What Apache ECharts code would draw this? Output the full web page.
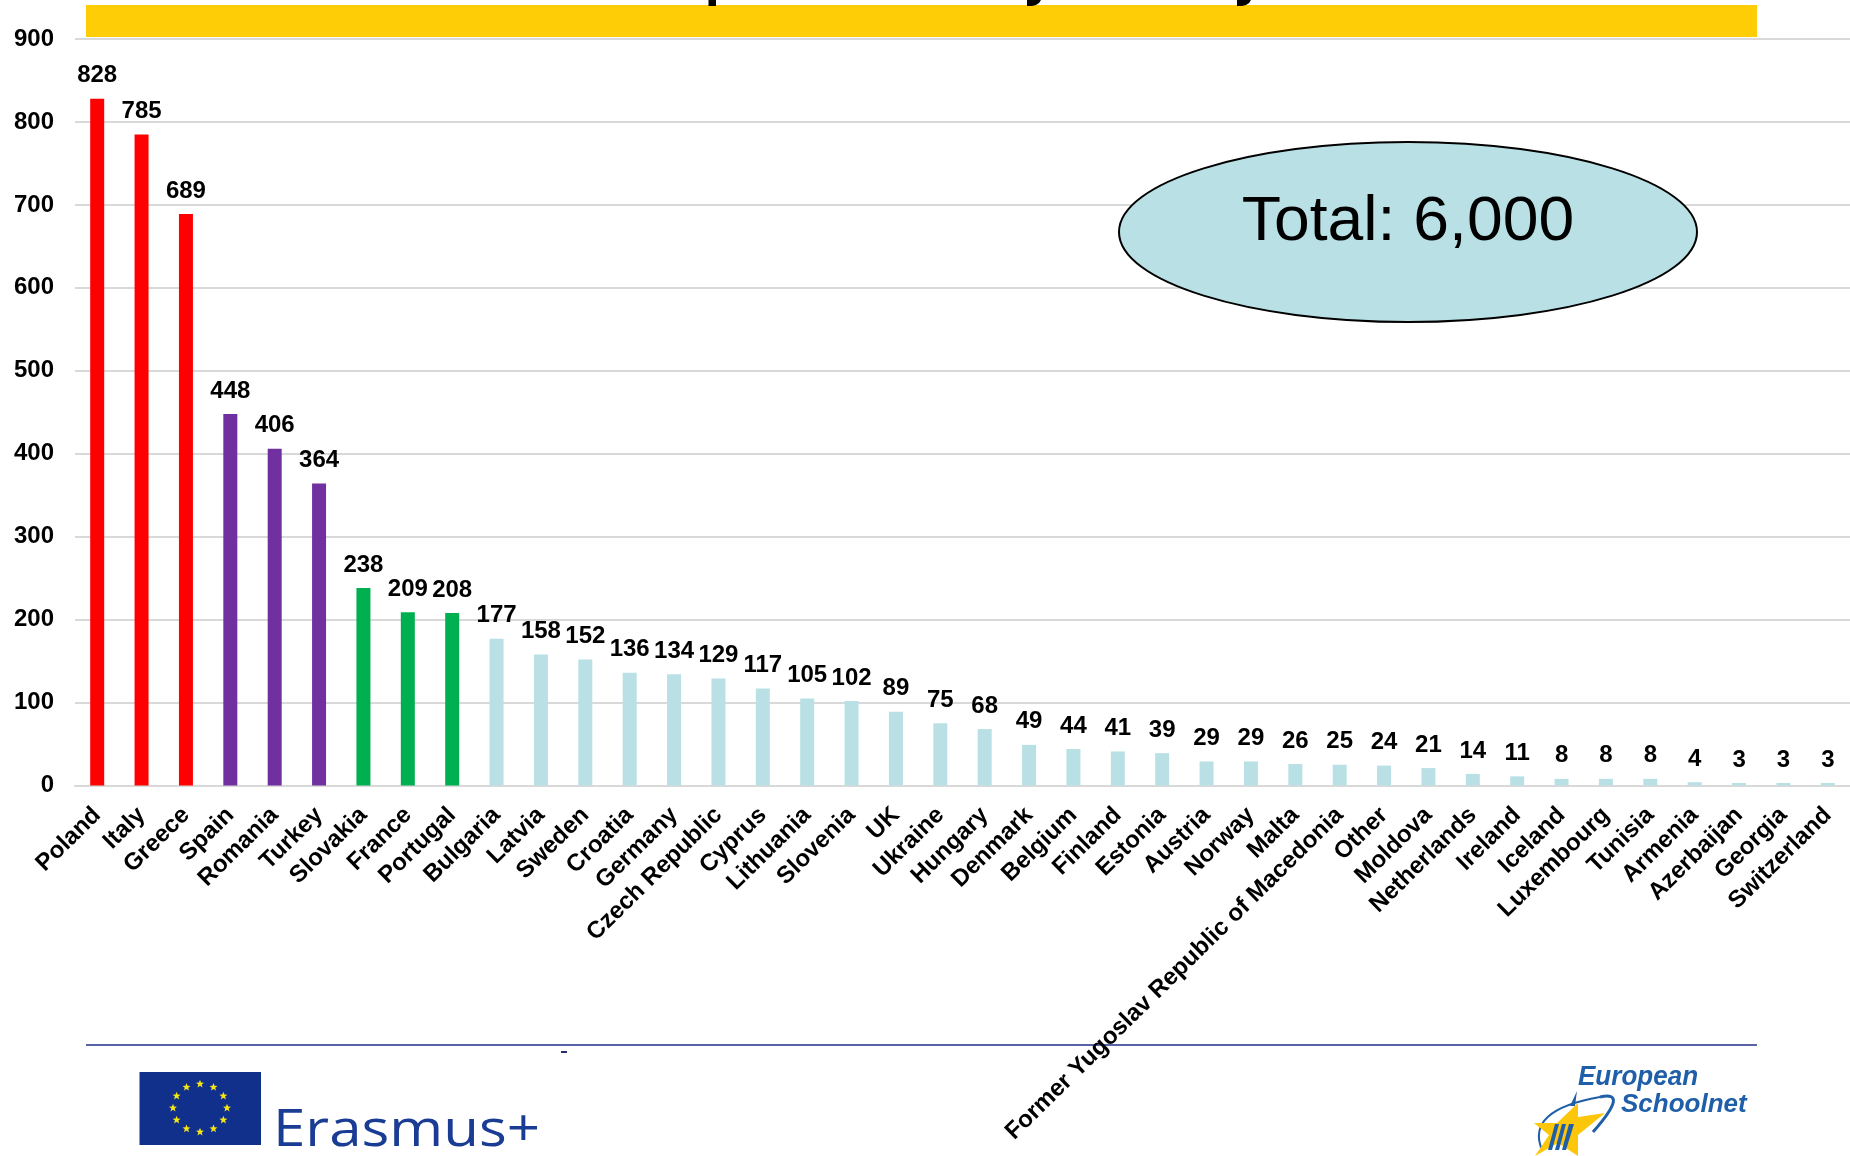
<!DOCTYPE html>
<html><head><meta charset="utf-8">
<style>html,body{margin:0;padding:0;background:#fff}#c{width:1850px;height:1156px}</style>
<script src="https://cdn.jsdelivr.net/npm/echarts@6/dist/echarts.min.js"></script>
</head><body><div id="c"></div>
<script>
const categories = ["Poland","Italy","Greece","Spain","Romania","Turkey","Slovakia","France","Portugal","Bulgaria","Latvia","Sweden","Croatia","Germany","Czech Republic","Cyprus","Lithuania","Slovenia","UK","Ukraine","Hungary","Denmark","Belgium","Finland","Estonia","Austria","Norway","Malta","Former Yugoslav Republic of Macedonia","Other","Moldova","Netherlands","Ireland","Iceland","Luxembourg","Tunisia","Armenia","Azerbaijan","Georgia","Switzerland"];
const values = [828,785,689,448,406,364,238,209,208,177,158,152,136,134,129,117,105,102,89,75,68,49,44,41,39,29,29,26,25,24,21,14,11,8,8,8,4,3,3,3];
const barColors = ["#ff0000","#ff0000","#ff0000","#7030a0","#7030a0","#7030a0","#00b050","#00b050","#00b050"];
const otherColor = "#b9e0e4";
const totalLabel = "Total: 6,000";
const FONT = '"Liberation Sans", Arial, sans-serif';

const chart = echarts.init(document.getElementById('c'), null, {renderer:'canvas'});

function starPts(cx, cy, R, r, rot){
  const p=[];
  for(let i=0;i<10;i++){
    const a=rot+i*Math.PI/5, q=i%2?r:R;
    p.push([cx+q*Math.sin(a),cy-q*Math.cos(a)]);
  }
  return p;
}
const euStars=[];
for(let i=0;i<12;i++){
  const a=i*Math.PI/6;
  euStars.push({type:'polygon',z:5,shape:{points:starPts(200+27*Math.sin(a),1108-24*Math.cos(a),4.2,1.8,0)},style:{fill:'#f6e512'}});
}
const blue='#1f5ea8';
const graphics=[
  {type:'rect',z:5,shape:{x:86,y:5,width:1671,height:32},style:{fill:'#ffcd05'}},
  {type:'rect',z:6,shape:{x:708.5,y:0,width:7.5,height:6},style:{fill:'#000'}},
  {type:'polygon',z:6,shape:{points:[[1027,0],[1041,0],[1039,3],[1036,5],[1032,6],[1027,6]]},style:{fill:'#000'}},
  {type:'polygon',z:6,shape:{points:[[1237,0],[1251,0],[1249,3],[1246,5],[1242,6],[1237,6]]},style:{fill:'#000'}},
  {type:'line',z:0,shape:{x1:86,y1:1045,x2:1757,y2:1045},style:{stroke:'#5a62a8',lineWidth:2}},
  {type:'rect',z:0,shape:{x:561,y:1051,width:6,height:2},style:{fill:'#2a2a70'}},
  {type:'ellipse',z:5,shape:{cx:1408,cy:232,rx:289,ry:90},style:{fill:'#b9e0e4',stroke:'#000',lineWidth:2}},
  {type:'text',z:6,x:1408,y:223,scaleX:1.02,style:{text:totalLabel,x:0,y:0,align:'center',verticalAlign:'middle',font:'63px '+FONT,fill:'#000'}},
  {type:'rect',z:5,shape:{x:139.5,y:1072,width:121.5,height:73},style:{fill:'#10308c'}},
  ...euStars,
  {type:'text',z:5,x:273,y:1131,scaleX:1.12,style:{text:'Erasmus+',x:0,y:0,align:'left',verticalAlign:'middle',font:'52px "Open Sans", sans-serif',fill:'#1b3c94'}},
  {type:'bezierCurve',z:5,shape:{x1:1542,y1:1150,cpx1:1525,cpy1:1110,x2:1600,y2:1097},style:{stroke:blue,lineWidth:2,fill:'none'}},
  {type:'bezierCurve',z:5,shape:{x1:1600,y1:1097,cpx1:1630,cpy1:1090,x2:1593,y2:1132},style:{stroke:blue,lineWidth:3,fill:'none'}},
  {type:'polygon',z:5,shape:{points:[[1577,1091],[1575,1106],[1570,1106]]},style:{fill:blue}},
  {type:'polygon',z:6,shape:{points:[[1578,1103],[1578,1117],[1605,1113],[1578,1135],[1578,1156],[1558,1143],[1535,1156],[1549,1135],[1534,1123],[1557,1123]]},style:{fill:'#fcc70a'}},
  {type:'polygon',z:7,shape:{points:[[1555,1124],[1559,1124],[1552,1150],[1548,1150]]},style:{fill:blue}},
  {type:'polygon',z:7,shape:{points:[[1562,1124],[1566,1124],[1559,1150],[1555,1150]]},style:{fill:blue}},
  {type:'polygon',z:7,shape:{points:[[1569,1124],[1574,1124],[1566,1150],[1562,1150]]},style:{fill:blue}},
  {type:'text',z:6,x:1578,y:1077,scaleX:0.93,style:{text:'European',x:0,y:0,align:'left',verticalAlign:'middle',font:'italic bold 28px '+FONT,fill:blue}},
  {type:'text',z:6,x:1621,y:1105,style:{text:'Schoolnet',x:0,y:0,align:'left',verticalAlign:'middle',font:'italic bold 26px '+FONT,fill:blue}}
];

chart.setOption({
  animation:false,
  backgroundColor:'#fff',
  grid:{left:75,right:0,top:39,bottom:370.5,containLabel:false},
  xAxis:{type:'category',data:categories,
    axisLine:{show:true,lineStyle:{color:'#d9d9d9',width:2}},axisTick:{show:false},
    axisLabel:{interval:0,rotate:44.5,margin:26,fontFamily:'Liberation Sans',fontWeight:'bold',fontSize:24,color:'#000'}},
  yAxis:{type:'value',min:0,max:900,interval:100,
    axisLine:{show:false},axisTick:{show:false},
    splitLine:{lineStyle:{color:'#d9d9d9',width:2}},
    axisLabel:{margin:21,padding:[7,0,0,0],fontFamily:'Liberation Sans',fontWeight:'bold',fontSize:24,color:'#000'}},
  series:[{type:'bar',barWidth:14,
    data:values.map((v,i)=>({value:v,itemStyle:{color:barColors[i]||otherColor}})),
    label:{show:true,position:'top',distance:11,fontFamily:'Liberation Sans',fontWeight:'bold',fontSize:24,color:'#000'}}],
  graphic:{elements:graphics}
});
</script></body></html>
